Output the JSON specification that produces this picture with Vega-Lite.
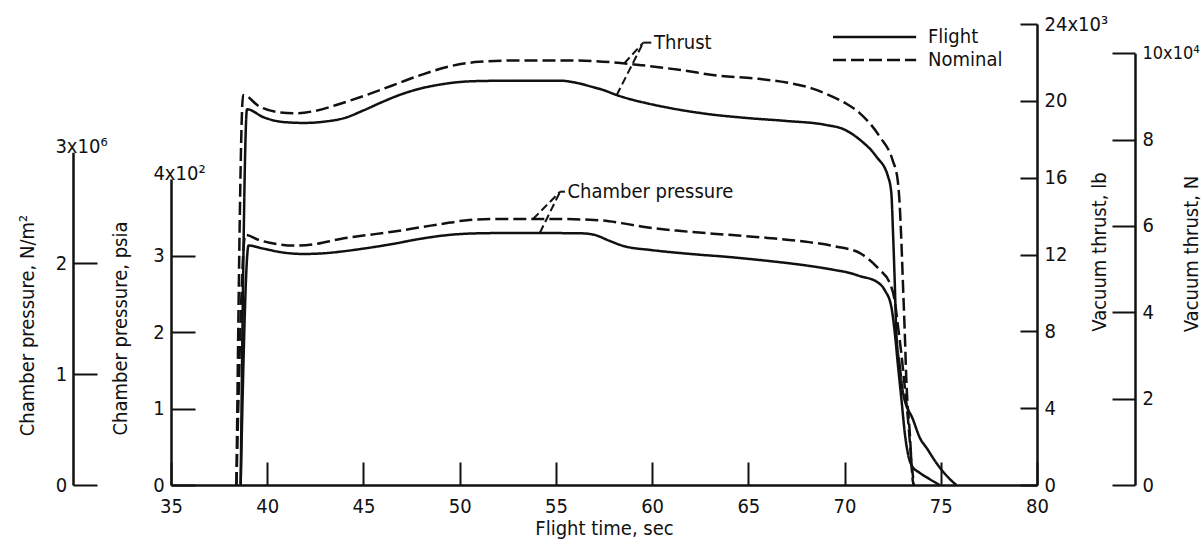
{
  "$schema": "https://vega.github.io/schema/vega-lite/v6.json",
  "width": 866,
  "height": 461,
  "autosize": "none",
  "padding": {"left": 171, "top": 24, "right": 167, "bottom": 55},
  "background": "white",
  "config": {
    "font": "DejaVu Sans Condensed, DejaVu Sans, sans-serif",
    "view": {"stroke": null},
    "axis": {
      "grid": false,
      "domainColor": "#111",
      "tickColor": "#111",
      "labelColor": "#111",
      "titleColor": "#111",
      "domainWidth": 2.5,
      "tickWidth": 2,
      "labelFontSize": 20,
      "titleFontSize": 20,
      "titleFontWeight": "normal",
      "labelFlush": false,
      "labelOverlap": false,
      "labelBound": false
    }
  },
  "datasets": {
    "thrust": [
      {"t": 38.40, "lb": 0, "run": "Nominal"},
      {"t": 38.75, "lb": 20300, "run": "Nominal"},
      {"t": 39.6, "lb": 19700, "run": "Nominal"},
      {"t": 40.5, "lb": 19420, "run": "Nominal"},
      {"t": 41.5, "lb": 19350, "run": "Nominal"},
      {"t": 42.5, "lb": 19480, "run": "Nominal"},
      {"t": 43.8, "lb": 19850, "run": "Nominal"},
      {"t": 45.0, "lb": 20250, "run": "Nominal"},
      {"t": 46.5, "lb": 20800, "run": "Nominal"},
      {"t": 48.0, "lb": 21350, "run": "Nominal"},
      {"t": 49.5, "lb": 21800, "run": "Nominal"},
      {"t": 51.0, "lb": 22030, "run": "Nominal"},
      {"t": 53.0, "lb": 22100, "run": "Nominal"},
      {"t": 56.0, "lb": 22100, "run": "Nominal"},
      {"t": 58.0, "lb": 22000, "run": "Nominal"},
      {"t": 59.5, "lb": 21850, "run": "Nominal"},
      {"t": 61.5, "lb": 21600, "run": "Nominal"},
      {"t": 63.5, "lb": 21300, "run": "Nominal"},
      {"t": 65.5, "lb": 21150, "run": "Nominal"},
      {"t": 67.0, "lb": 20950, "run": "Nominal"},
      {"t": 68.3, "lb": 20650, "run": "Nominal"},
      {"t": 69.3, "lb": 20250, "run": "Nominal"},
      {"t": 70.1, "lb": 19850, "run": "Nominal"},
      {"t": 70.8, "lb": 19350, "run": "Nominal"},
      {"t": 71.83, "lb": 18130, "run": "Nominal"},
      {"t": 72.5, "lb": 16900, "run": "Nominal"},
      {"t": 72.76, "lb": 15880, "run": "Nominal"},
      {"t": 72.87, "lb": 14500, "run": "Nominal"},
      {"t": 72.95, "lb": 12750, "run": "Nominal"},
      {"t": 73.04, "lb": 10320, "run": "Nominal"},
      {"t": 73.13, "lb": 7900, "run": "Nominal"},
      {"t": 73.21, "lb": 5470, "run": "Nominal"},
      {"t": 73.39, "lb": 2700, "run": "Nominal"},
      {"t": 73.54, "lb": 260, "run": "Nominal"},
      {"t": 73.6, "lb": 0, "run": "Nominal"},
      {"t": 38.62, "lb": 0, "run": "Flight"},
      {"t": 38.95, "lb": 19560, "run": "Flight"},
      {"t": 39.8, "lb": 19150, "run": "Flight"},
      {"t": 40.8, "lb": 18900, "run": "Flight"},
      {"t": 41.9, "lb": 18850, "run": "Flight"},
      {"t": 43.0, "lb": 18920, "run": "Flight"},
      {"t": 44.0, "lb": 19100, "run": "Flight"},
      {"t": 45.0, "lb": 19500, "run": "Flight"},
      {"t": 46.0, "lb": 19950, "run": "Flight"},
      {"t": 47.0, "lb": 20350, "run": "Flight"},
      {"t": 48.0, "lb": 20650, "run": "Flight"},
      {"t": 49.0, "lb": 20850, "run": "Flight"},
      {"t": 50.0, "lb": 20980, "run": "Flight"},
      {"t": 51.0, "lb": 21030, "run": "Flight"},
      {"t": 53.0, "lb": 21050, "run": "Flight"},
      {"t": 55.2, "lb": 21050, "run": "Flight"},
      {"t": 56.0, "lb": 20950, "run": "Flight"},
      {"t": 56.8, "lb": 20750, "run": "Flight"},
      {"t": 57.5, "lb": 20550, "run": "Flight"},
      {"t": 58.16, "lb": 20300, "run": "Flight"},
      {"t": 59.0, "lb": 20050, "run": "Flight"},
      {"t": 59.7, "lb": 19880, "run": "Flight"},
      {"t": 61.45, "lb": 19530, "run": "Flight"},
      {"t": 63.0, "lb": 19300, "run": "Flight"},
      {"t": 65.0, "lb": 19100, "run": "Flight"},
      {"t": 67.0, "lb": 18950, "run": "Flight"},
      {"t": 69.0, "lb": 18750, "run": "Flight"},
      {"t": 70.0, "lb": 18500, "run": "Flight"},
      {"t": 70.8, "lb": 17970, "run": "Flight"},
      {"t": 71.65, "lb": 17100, "run": "Flight"},
      {"t": 72.26, "lb": 16060, "run": "Flight"},
      {"t": 72.43, "lb": 15200, "run": "Flight"},
      {"t": 72.52, "lb": 13100, "run": "Flight"},
      {"t": 72.61, "lb": 10500, "run": "Flight"},
      {"t": 72.69, "lb": 7900, "run": "Flight"},
      {"t": 72.87, "lb": 6200, "run": "Flight"},
      {"t": 73.04, "lb": 4800, "run": "Flight"},
      {"t": 73.56, "lb": 3400, "run": "Flight"},
      {"t": 73.94, "lb": 2400, "run": "Flight"},
      {"t": 74.25, "lb": 1950, "run": "Flight"},
      {"t": 74.77, "lb": 1150, "run": "Flight"},
      {"t": 75.2, "lb": 600, "run": "Flight"},
      {"t": 75.5, "lb": 280, "run": "Flight"},
      {"t": 75.81, "lb": 0, "run": "Flight"}
    ],
    "chamber": [
      {"t": 38.40, "psia": 0, "run": "Nominal"},
      {"t": 38.86, "psia": 327, "run": "Nominal"},
      {"t": 39.6, "psia": 320, "run": "Nominal"},
      {"t": 40.5, "psia": 315, "run": "Nominal"},
      {"t": 41.35, "psia": 313, "run": "Nominal"},
      {"t": 42.5, "psia": 315, "run": "Nominal"},
      {"t": 43.8, "psia": 321.6, "run": "Nominal"},
      {"t": 45.0, "psia": 326, "run": "Nominal"},
      {"t": 46.5, "psia": 331, "run": "Nominal"},
      {"t": 48.0, "psia": 337, "run": "Nominal"},
      {"t": 49.5, "psia": 343, "run": "Nominal"},
      {"t": 50.5, "psia": 346.5, "run": "Nominal"},
      {"t": 52.0, "psia": 347.7, "run": "Nominal"},
      {"t": 55.0, "psia": 347.7, "run": "Nominal"},
      {"t": 57.3, "psia": 346, "run": "Nominal"},
      {"t": 58.5, "psia": 342, "run": "Nominal"},
      {"t": 59.7, "psia": 337, "run": "Nominal"},
      {"t": 61.5, "psia": 332, "run": "Nominal"},
      {"t": 64.0, "psia": 327, "run": "Nominal"},
      {"t": 66.0, "psia": 323, "run": "Nominal"},
      {"t": 68.0, "psia": 318, "run": "Nominal"},
      {"t": 69.5, "psia": 312, "run": "Nominal"},
      {"t": 70.8, "psia": 303, "run": "Nominal"},
      {"t": 71.83, "psia": 281, "run": "Nominal"},
      {"t": 72.35, "psia": 264, "run": "Nominal"},
      {"t": 72.6, "psia": 242, "run": "Nominal"},
      {"t": 72.78, "psia": 207, "run": "Nominal"},
      {"t": 72.95, "psia": 172, "run": "Nominal"},
      {"t": 73.13, "psia": 128, "run": "Nominal"},
      {"t": 73.3, "psia": 85, "run": "Nominal"},
      {"t": 73.47, "psia": 33, "run": "Nominal"},
      {"t": 73.6, "psia": 0, "run": "Nominal"},
      {"t": 38.62, "psia": 0, "run": "Flight"},
      {"t": 39.03, "psia": 313, "run": "Flight"},
      {"t": 39.8, "psia": 309, "run": "Flight"},
      {"t": 40.8, "psia": 304, "run": "Flight"},
      {"t": 41.87, "psia": 302, "run": "Flight"},
      {"t": 43.0, "psia": 303, "run": "Flight"},
      {"t": 43.8, "psia": 305, "run": "Flight"},
      {"t": 45.0, "psia": 309, "run": "Flight"},
      {"t": 46.5, "psia": 315, "run": "Flight"},
      {"t": 48.0, "psia": 322, "run": "Flight"},
      {"t": 49.5, "psia": 327, "run": "Flight"},
      {"t": 51.0, "psia": 329, "run": "Flight"},
      {"t": 53.0, "psia": 329.5, "run": "Flight"},
      {"t": 56.3, "psia": 329, "run": "Flight"},
      {"t": 57.0, "psia": 327, "run": "Flight"},
      {"t": 57.8, "psia": 319, "run": "Flight"},
      {"t": 58.5, "psia": 312.5, "run": "Flight"},
      {"t": 60.0, "psia": 307, "run": "Flight"},
      {"t": 62.0, "psia": 302, "run": "Flight"},
      {"t": 64.0, "psia": 298, "run": "Flight"},
      {"t": 66.0, "psia": 293, "run": "Flight"},
      {"t": 68.0, "psia": 287, "run": "Flight"},
      {"t": 69.5, "psia": 281, "run": "Flight"},
      {"t": 70.3, "psia": 277, "run": "Flight"},
      {"t": 70.8, "psia": 273, "run": "Flight"},
      {"t": 71.65, "psia": 266, "run": "Flight"},
      {"t": 72.08, "psia": 255, "run": "Flight"},
      {"t": 72.43, "psia": 233, "run": "Flight"},
      {"t": 72.61, "psia": 199, "run": "Flight"},
      {"t": 72.78, "psia": 155, "run": "Flight"},
      {"t": 72.96, "psia": 111, "run": "Flight"},
      {"t": 73.13, "psia": 68, "run": "Flight"},
      {"t": 73.3, "psia": 40, "run": "Flight"},
      {"t": 73.5, "psia": 25, "run": "Flight"},
      {"t": 73.9, "psia": 16, "run": "Flight"},
      {"t": 74.4, "psia": 8, "run": "Flight"},
      {"t": 74.94, "psia": 0, "run": "Flight"}
    ],
    "thrustLeaders": [
      {"t": 58.16, "lb": 20300, "t2": 59.54, "lb2": 23030},
      {"t": 58.55, "lb": 21950, "t2": 59.54, "lb2": 23030},
      {"t": 59.54, "lb": 23030, "t2": 59.97, "lb2": 23030}
    ],
    "thrustLabel": [{"t": 60.1, "lb": 23030, "label": "Thrust"}],
    "chamberLeaders": [
      {"t": 53.81, "psia": 347.7, "t2": 55.22, "psia2": 383.4},
      {"t": 54.17, "psia": 329.8, "t2": 55.22, "psia2": 383.4},
      {"t": 55.22, "psia": 383.4, "t2": 55.47, "psia2": 383.4}
    ],
    "chamberLabel": [{"t": 55.6, "psia": 383.4, "label": "Chamber pressure"}],
    "pascalRange": [{"pa": 0}, {"pa": 3000000}],
    "newtonRange": [{"n": 0}, {"n": 100000}]
  },
  "resolve": {"scale": {"y": "independent"}, "axis": {"y": "independent"}},
  "layer": [
    {
      "data": {"name": "thrust"},
      "mark": {"type": "line", "interpolate": "monotone", "strokeWidth": 2.5, "color": "#111"},
      "encoding": {
        "x": {
          "field": "t", "type": "quantitative",
          "scale": {"domain": [35, 80], "nice": false, "zero": false},
          "axis": {"orient": "bottom", "values": [35, 40, 45, 50, 55, 60, 65, 70, 75, 80], "tickSize": -23, "labelPadding": 50, "labelBaseline": "alphabetic", "labelAlign": "center", "title": "Flight time, sec", "titleAlign": "center", "titleBaseline": "alphabetic", "titleX": 433, "titleY": 49}
        },
        "y": {
          "field": "lb", "type": "quantitative",
          "scale": {"domain": [0, 24000], "nice": false, "zero": false},
          "axis": {
            "orient": "right",
            "offset": 0,
            "values": [0, 4000, 8000, 12000, 16000, 20000, 24000],
            "labelExpr": "datum.value == 24000 ? '24x10³' : format(datum.value / 1000, 'd')",
            "tickSize": -17,
            "labelPadding": 24,
            "labelAlign": "left",
            "labelBaseline": "middle",
            "title": "Vacuum thrust, lb",
            "titleAngle": 270,
            "titleAlign": "center",
            "titleBaseline": "alphabetic",
            "titleX": 68,
            "titleY": 227.5
          }
        },
        "strokeDash": {
          "field": "run", "type": "nominal",
          "scale": {"domain": ["Flight", "Nominal"], "range": [[1, 0], [13, 5]]},
          "legend": {
            "orient": "none",
            "legendX": 652,
            "legendY": 3,
            "title": null,
            "padding": 0,
            "rowPadding": 3,
            "symbolType": "M0,0H32",
            "symbolSize": 27,
            "symbolStrokeWidth": 2.5,
            "symbolStrokeColor": "#111",
            "symbolFillColor": "transparent",
            "labelFontSize": 20,
            "labelColor": "#111",
            "labelOffset": 85
          }
        }
      }
    },
    {
      "data": {"name": "thrustLeaders"},
      "mark": {"type": "rule", "strokeDash": [8, 4], "strokeWidth": 2, "color": "#111"},
      "encoding": {
        "x": {
          "field": "t", "type": "quantitative",
          "scale": {"domain": [35, 80], "nice": false, "zero": false},
          "axis": {"orient": "bottom", "values": [35, 40, 45, 50, 55, 60, 65, 70, 75, 80], "tickSize": -23, "labelPadding": 50, "labelBaseline": "alphabetic", "labelAlign": "center", "title": "Flight time, sec", "titleAlign": "center", "titleBaseline": "alphabetic", "titleX": 433, "titleY": 49}
        },
        "x2": {"field": "t2"},
        "y": {"field": "lb", "type": "quantitative", "scale": {"domain": [0, 24000], "nice": false, "zero": false}, "axis": null},
        "y2": {"field": "lb2"}
      }
    },
    {
      "data": {"name": "thrustLabel"},
      "mark": {"type": "text", "align": "left", "baseline": "middle", "fontSize": 20, "color": "#111"},
      "encoding": {
        "x": {
          "field": "t", "type": "quantitative",
          "scale": {"domain": [35, 80], "nice": false, "zero": false},
          "axis": {"orient": "bottom", "values": [35, 40, 45, 50, 55, 60, 65, 70, 75, 80], "tickSize": -23, "labelPadding": 50, "labelBaseline": "alphabetic", "labelAlign": "center", "title": "Flight time, sec", "titleAlign": "center", "titleBaseline": "alphabetic", "titleX": 433, "titleY": 49}
        },
        "y": {"field": "lb", "type": "quantitative", "scale": {"domain": [0, 24000], "nice": false, "zero": false}, "axis": null},
        "text": {"field": "label"}
      }
    },
    {
      "data": {"name": "chamber"},
      "mark": {"type": "line", "interpolate": "monotone", "strokeWidth": 2.5, "color": "#111"},
      "encoding": {
        "x": {
          "field": "t", "type": "quantitative",
          "scale": {"domain": [35, 80], "nice": false, "zero": false},
          "axis": {"orient": "bottom", "values": [35, 40, 45, 50, 55, 60, 65, 70, 75, 80], "tickSize": -23, "labelPadding": 50, "labelBaseline": "alphabetic", "labelAlign": "center", "title": "Flight time, sec", "titleAlign": "center", "titleBaseline": "alphabetic", "titleX": 433, "titleY": 49}
        },
        "y": {
          "field": "psia", "type": "quantitative",
          "scale": {"domain": [0, 400], "range": [461, 155], "nice": false, "zero": false},
          "axis": {
            "orient": "left",
            "offset": 0,
            "values": [0, 100, 200, 300, 400],
            "labelExpr": "datum.value == 400 ? '4x10²' : format(datum.value / 100, 'd')",
            "tickSize": -24,
            "tickOpacity": {"condition": {"test": "datum.value == 400", "value": 0}, "value": 1},
            "labelAlign": {"condition": {"test": "datum.value == 400", "value": "center"}, "value": "right"},
            "labelBaseline": {"condition": {"test": "datum.value == 400", "value": "alphabetic"}, "value": "middle"},
            "labelPadding": {"condition": {"test": "datum.value == 400", "value": 16}, "value": 30.7},
            "title": "Chamber pressure, psia",
            "titleAngle": 270,
            "titleAlign": "center",
            "titleBaseline": "alphabetic",
            "titleX": -44.5,
            "titleY": 304
          }
        },
        "strokeDash": {"field": "run", "type": "nominal", "scale": {"domain": ["Flight", "Nominal"], "range": [[1, 0], [13, 5]]}}
      }
    },
    {
      "data": {"name": "chamberLeaders"},
      "mark": {"type": "rule", "strokeDash": [8, 4], "strokeWidth": 2, "color": "#111"},
      "encoding": {
        "x": {
          "field": "t", "type": "quantitative",
          "scale": {"domain": [35, 80], "nice": false, "zero": false},
          "axis": {"orient": "bottom", "values": [35, 40, 45, 50, 55, 60, 65, 70, 75, 80], "tickSize": -23, "labelPadding": 50, "labelBaseline": "alphabetic", "labelAlign": "center", "title": "Flight time, sec", "titleAlign": "center", "titleBaseline": "alphabetic", "titleX": 433, "titleY": 49}
        },
        "x2": {"field": "t2"},
        "y": {"field": "psia", "type": "quantitative", "scale": {"domain": [0, 400], "range": [461, 155], "nice": false, "zero": false}, "axis": null},
        "y2": {"field": "psia2"}
      }
    },
    {
      "data": {"name": "chamberLabel"},
      "mark": {"type": "text", "align": "left", "baseline": "middle", "fontSize": 20, "color": "#111"},
      "encoding": {
        "x": {
          "field": "t", "type": "quantitative",
          "scale": {"domain": [35, 80], "nice": false, "zero": false},
          "axis": {"orient": "bottom", "values": [35, 40, 45, 50, 55, 60, 65, 70, 75, 80], "tickSize": -23, "labelPadding": 50, "labelBaseline": "alphabetic", "labelAlign": "center", "title": "Flight time, sec", "titleAlign": "center", "titleBaseline": "alphabetic", "titleX": 433, "titleY": 49}
        },
        "y": {"field": "psia", "type": "quantitative", "scale": {"domain": [0, 400], "range": [461, 155], "nice": false, "zero": false}, "axis": null},
        "text": {"field": "label"}
      }
    },
    {
      "data": {"name": "pascalRange"},
      "mark": {"type": "point", "opacity": 0},
      "encoding": {
        "y": {
          "field": "pa", "type": "quantitative",
          "scale": {"domain": [0, 3000000], "range": [461, 128.2], "nice": false, "zero": false},
          "axis": {
            "orient": "left",
            "offset": 98,
            "values": [0, 1000000, 2000000, 3000000],
            "labelExpr": "datum.value == 3000000 ? '3x10⁶' : format(datum.value / 1000000, 'd')",
            "tickSize": -24,
            "tickOpacity": {"condition": {"test": "datum.value == 3000000", "value": 0}, "value": 1},
            "labelAlign": {"condition": {"test": "datum.value == 3000000", "value": "center"}, "value": "right"},
            "labelBaseline": {"condition": {"test": "datum.value == 3000000", "value": "alphabetic"}, "value": "middle"},
            "labelPadding": {"condition": {"test": "datum.value == 3000000", "value": 16}, "value": 30.3},
            "title": "Chamber pressure, N/m²",
            "titleAngle": 270,
            "titleAlign": "center",
            "titleBaseline": "alphabetic",
            "titleX": -39.5,
            "titleY": 301
          }
        }
      }
    },
    {
      "data": {"name": "newtonRange"},
      "mark": {"type": "point", "opacity": 0},
      "encoding": {
        "y": {
          "field": "n", "type": "quantitative",
          "scale": {"domain": [0, 100000], "range": [461, 29.2], "nice": false, "zero": false},
          "axis": {
            "orient": "right",
            "offset": 98,
            "values": [0, 20000, 40000, 60000, 80000, 100000],
            "labelExpr": "datum.value == 100000 ? '10x10⁴' : format(datum.value / 10000, 'd')",
            "tickSize": -23,
            "labelPadding": 30,
            "labelAlign": "left",
            "labelBaseline": "middle",
            "labelFontSize": {"condition": {"test": "datum.value == 100000", "value": 18}, "value": 20},
            "title": "Vacuum thrust, N",
            "titleAngle": 270,
            "titleAlign": "center",
            "titleBaseline": "alphabetic",
            "titleX": 62,
            "titleY": 229.5
          }
        }
      }
    }
  ]
}
